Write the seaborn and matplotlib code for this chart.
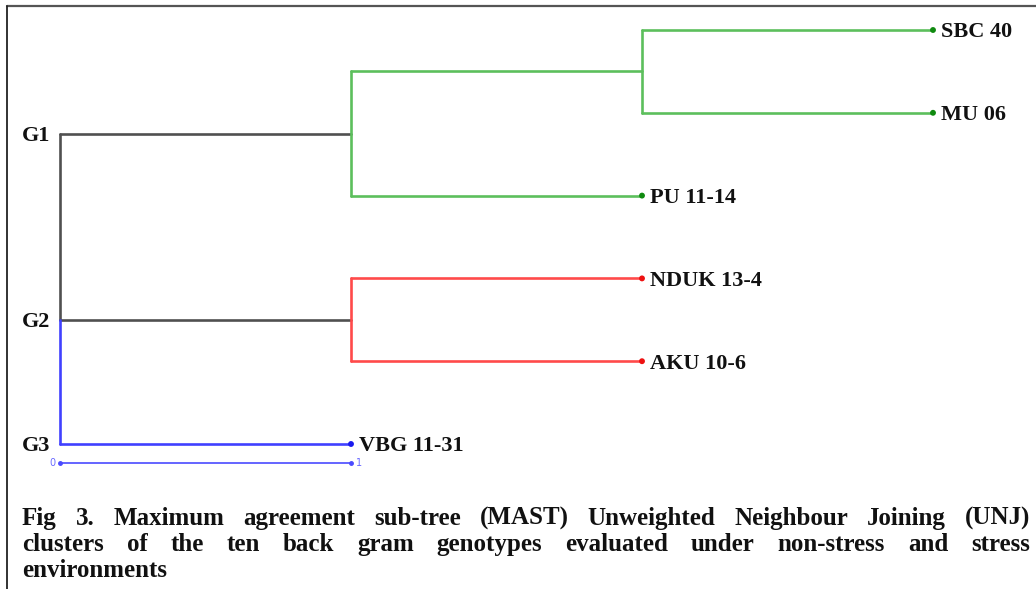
import matplotlib
matplotlib.use("Agg")
import matplotlib.pyplot as plt
from matplotlib.lines import Line2D
import seaborn as sns
import pandas as pd

# ---------------- data ----------------
node_names = ["G1", "n1", "SBC 40", "MU 06", "PU 11-14", "G2", "NDUK 13-4", "AKU 10-6", "VBG 11-31"]
node_parents = ["root", "G1", "n1", "n1", "G1", "root", "G2", "G2", "root"]
branch_lengths = [1, 1, 1, 1, 1, 1, 1, 1, 1]
node_groups = ["G1", "G1", "G1", "G1", "G1", "G2", "G2", "G2", "G3"]
leaf_order = ["SBC 40", "MU 06", "PU 11-14", "NDUK 13-4", "AKU 10-6", "VBG 11-31"]
group_labels = ["G1", "G2", "G3"]
group_nodes = ["G1", "G2", "VBG 11-31"]
scale_ticks = ["0", "1"]
caption_lines = [
    "Fig 3. Maximum agreement sub-tree (MAST) Unweighted Neighbour Joining (UNJ)",
    "clusters of the ten back gram genotypes evaluated under non-stress and stress",
    "environments",
]

# ---------------- styles ----------------
line_col = {"G1": "#5cbf5c", "G2": "#ff4a4a", "G3": "#4040ff", "root": "#505050"}
dot_col = {"G1": "#108a10", "G2": "#ee1111", "G3": "#1a1aee"}

sns.set_theme(style="white")
plt.rcParams["font.family"] = ["Liberation Serif", "DejaVu Serif"]

W, H, DPI = 1036, 589, 100
fig = plt.figure(figsize=(W / DPI, H / DPI), dpi=DPI)
ax = fig.add_axes([0, 0, 1, 1])

# pixel mapping: x_px = 60 + 291*x ; y_px = 30 + 82.8*y
x0px, xunit = 60.0, 291.0
y0px, yunit = 30.0, 82.8
ax.set_xlim((0 - x0px) / xunit, (W - x0px) / xunit)
ax.set_ylim((H - y0px) / yunit, (0 - y0px) / yunit)
ax.axis("off")

# ---------------- tree layout ----------------
parent = dict(zip(node_names, node_parents))
blen = dict(zip(node_names, branch_lengths))
group = dict(zip(node_names, node_groups))
children = {}
for n, p in zip(node_names, node_parents):
    children.setdefault(p, []).append(n)

xpos = {"root": 0.0}
def setx(n):
    if n not in xpos:
        setx(parent[n])
        xpos[n] = xpos[parent[n]] + blen[n]
    return xpos[n]
for n in node_names:
    setx(n)

ypos = {n: float(i) for i, n in enumerate(leaf_order)}
def sety(n):
    if n in ypos:
        return ypos[n]
    ys = [sety(c) for c in children[n]]
    ypos[n] = (min(ys) + max(ys)) / 2
    return ypos[n]
sety("root")

rows = []
seg = 0
# horizontal edges
for n in node_names:
    p = parent[n]
    col = "root" if (p == "root" and n in children) else group[n]
    rows += [dict(seg=seg, x=xpos[p], y=ypos[n], c=col), dict(seg=seg, x=xpos[n], y=ypos[n], c=col)]
    seg += 1
# vertical edges
for p, ch in children.items():
    ch_sorted = sorted(ch, key=lambda c: ypos[c])
    if p == "root":
        for a, b in zip(ch_sorted[:-1], ch_sorted[1:]):
            col = "root" if b in children else group[b]
            rows += [dict(seg=seg, x=xpos[p], y=ypos[a], c=col), dict(seg=seg, x=xpos[p], y=ypos[b], c=col)]
            seg += 1
    else:
        col = group[p]
        rows += [dict(seg=seg, x=xpos[p], y=ypos[ch_sorted[0]], c=col),
                 dict(seg=seg, x=xpos[p], y=ypos[ch_sorted[-1]], c=col)]
        seg += 1
edges = pd.DataFrame(rows)
sns.lineplot(data=edges, x="x", y="y", units="seg", hue="c", palette=line_col,
             estimator=None, sort=False, linewidth=1.9, legend=False, ax=ax)

# leaves
leaves = pd.DataFrame({"name": leaf_order,
                       "x": [xpos[n] for n in leaf_order],
                       "y": [ypos[n] for n in leaf_order],
                       "g": [group[n] for n in leaf_order]})
sns.scatterplot(data=leaves, x="x", y="y", hue="g", palette=dot_col, s=18,
                edgecolor="none", legend=False, ax=ax, zorder=5)
for _, r in leaves.iterrows():
    ax.annotate(r["name"], (r["x"], r["y"]), xytext=(5.5, -5.3), textcoords="offset points",
                ha="left", va="baseline", fontsize=16, fontweight="bold", color="#111111")

# group labels
for lab, n in zip(group_labels, group_nodes):
    ax.annotate(lab, (0, ypos[n]), xytext=(-7, -5.3), textcoords="offset points",
                ha="right", va="baseline", fontsize=16, fontweight="bold", color="#111111")

# scale bar
ybar = max(ypos[n] for n in leaf_order) + (463 - 444) / yunit
ax.plot([0, 1], [ybar, ybar], color="#4a4aff", lw=1.2)
ax.plot([0, 1], [ybar, ybar], ls="none", marker="o", ms=2.5, color="#4a4aff")
ax.annotate(scale_ticks[0], (0, ybar), xytext=(-3.5, 0), textcoords="offset points",
            ha="right", va="center", fontsize=7, color="#6a6aff", family="DejaVu Sans")
ax.annotate(scale_ticks[1], (1, ybar), xytext=(3.5, 0), textcoords="offset points",
            ha="left", va="center", fontsize=7, color="#6a6aff", family="DejaVu Sans")

# border (top + left)
fig.add_artist(Line2D([7 / W, 1], [1 - 6 / H, 1 - 6 / H], color="#555555", lw=1.6))
fig.add_artist(Line2D([7 / W, 7 / W], [0, 1 - 6 / H], color="#222222", lw=1.3))

# caption, justified
renderer = fig.canvas.get_renderer()
cap_fs = 18
left_px, right_px = 22, 1030
baselines = [525, 551, 577]
for i, (line, yb) in enumerate(zip(caption_lines, baselines)):
    words = line.split(" ")
    texts = [fig.text(0, 1 - yb / H, w, fontsize=cap_fs, fontweight="bold", color="#111111",
                      ha="left", va="baseline") for w in words]
    widths = [t.get_window_extent(renderer).width for t in texts]
    if i < len(caption_lines) - 1 and len(words) > 1:
        gap = (right_px - left_px - sum(widths)) / (len(words) - 1)
    else:
        gap = 6
    x = left_px
    for t, w in zip(texts, widths):
        t.set_x(x / W)
        x += w + gap

fig.savefig("out.png", dpi=DPI)
